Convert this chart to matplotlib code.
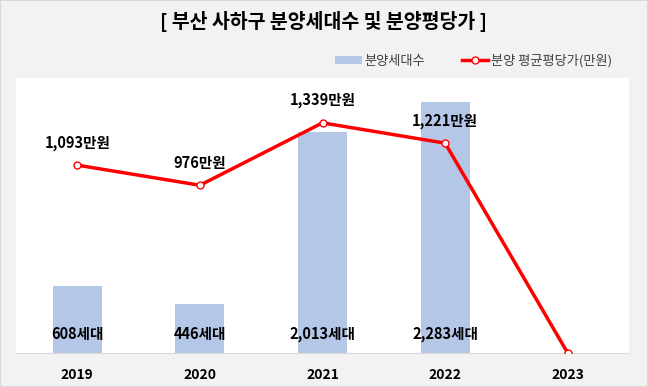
import matplotlib
matplotlib.use("Agg")
import matplotlib.pyplot as plt
from matplotlib.lines import Line2D
from matplotlib.patches import Patch, Rectangle

plt.rcParams['font.family'] = ['Noto Sans CJK KR', 'DejaVu Sans']

years = ['2019', '2020', '2021', '2022', '2023']
units = [608, 446, 2013, 2283, None]
unit_labels = ['608세대', '446세대', '2,013세대', '2,283세대']
price = [1093, 976, 1339, 1221, 0]
price_labels = ['1,093만원', '976만원', '1,339만원', '1,221만원']

fig = plt.figure(figsize=(6.48, 3.87), dpi=100, facecolor='#f2f2f2')
fig.patches.append(Rectangle((0, 0), 1, 1, transform=fig.transFigure, fill=False,
                             edgecolor='#d9d9d9', linewidth=1.5))
W, H = 648, 387
left, right, top, bottom = 16, 629, 78, 353
ax = fig.add_axes([left / W, 1 - bottom / H, (right - left) / W, (bottom - top) / H])
ax.set_facecolor('white')
x = list(range(len(years)))
bx = [i for i, v in enumerate(units) if v is not None]
bv = [v for v in units if v is not None]
ax.bar(bx, bv, width=0.4, color='#b4c7e7', zorder=1)
ax.set_ylim(0, 2500)
ax.set_xlim(-0.5, 4.5)
ax.set_yticks([])
ax.set_xticks(x)
ax.set_xticklabels(years, fontsize=10, fontweight='bold')
ax.tick_params(axis='x', length=0, pad=11)
for s in ['top', 'left', 'right']:
    ax.spines[s].set_visible(False)
ax.spines['bottom'].set_color('#d9d9d9')
for i, lab in zip(bx, unit_labels):
    ax.text(i, 170, lab, ha='center', va='center', fontsize=10.5, fontweight='bold', color='black')

ax2 = ax.twinx()
ax2.set_ylim(0, 1600)
ax2.set_yticks([])
for s in ['top', 'left', 'right', 'bottom']:
    ax2.spines[s].set_visible(False)
ax2.plot(x, price, color='#ff0000', linewidth=2.5, marker='o', markersize=5,
         markerfacecolor='white', markeredgecolor='#ff0000', markeredgewidth=1, zorder=3)
for i, lab in enumerate(price_labels):
    ax2.text(i, price[i] + 85, lab, ha='center', va='bottom', fontsize=10.5, fontweight='bold', color='black')

fig.text(0.5, 1 - 22 / H, '[ 부산 사하구 분양세대수 및 분양평당가 ]', ha='center', va='center',
         fontsize=14, fontweight='bold', color='black')

handles = [Patch(facecolor='#b4c7e7', edgecolor='none'),
           Line2D([0], [0], color='#ff0000', linewidth=2.5, marker='o', markersize=5,
                  markerfacecolor='white', markeredgecolor='#ff0000')]
fig.legend(handles, ['분양세대수', '분양 평균평당가(만원)'], loc='center right',
           bbox_to_anchor=(624 / W, 1 - 61 / H), ncol=2, frameon=False, fontsize=9.5,
           labelcolor='#404040', handlelength=2.0, handleheight=0.6, columnspacing=2.8,
           handletextpad=0.2)

fig.savefig('out.png', dpi=100, facecolor=fig.get_facecolor())
